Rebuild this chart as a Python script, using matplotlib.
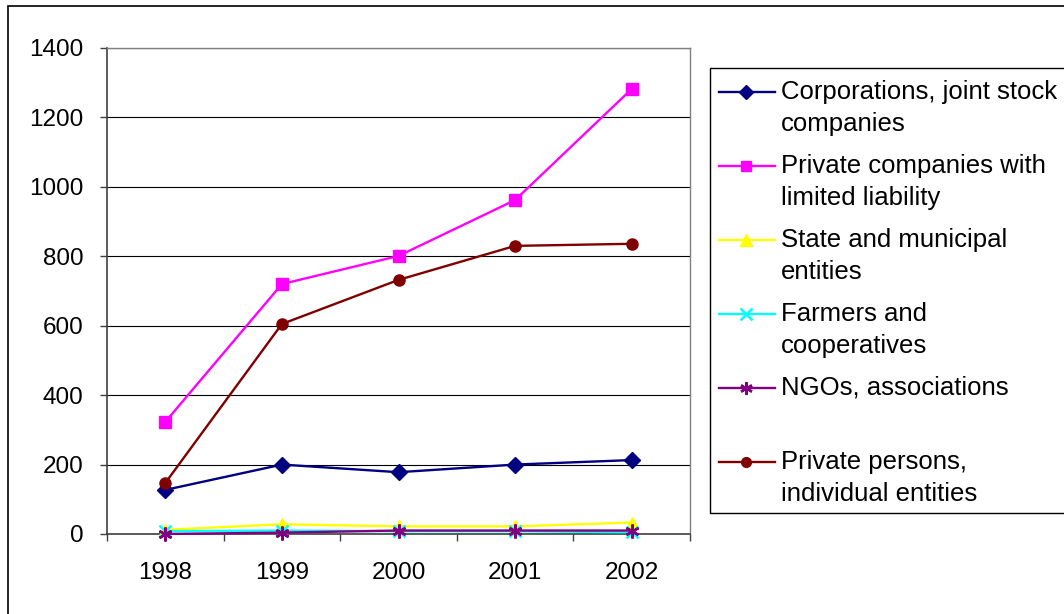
import matplotlib
matplotlib.use("Agg")
import matplotlib.pyplot as plt
from matplotlib.lines import Line2D
from matplotlib.patches import Rectangle

plt.rcParams['font.family'] = ['Liberation Sans', 'DejaVu Sans']

years = ["1998", "1999", "2000", "2001", "2002"]

corporations = [127, 200, 178, 200, 213]
private_llc = [323, 720, 801, 962, 1282]
state_municipal = [12, 28, 22, 22, 33]
farmers = [8, 10, 8, 8, 5]
ngos = [0, 4, 10, 10, 10]
private_persons = [147, 605, 732, 830, 836]

labels = ["Corporations, joint stock\ncompanies",
          "Private companies with\nlimited liability",
          "State and municipal\nentities",
          "Farmers and\ncooperatives",
          "NGOs, associations",
          "Private persons,\nindividual entities"]
colors = ["#000080", "#FF00FF", "#FFFF00", "#00FFFF", "#800080", "#800000"]
markers = ["D", "s", "^", "x", (6, 2, 0), "o"]
msizes = [8, 8, 9, 9, 10, 8]
series = [corporations, private_llc, state_municipal, farmers, ngos, private_persons]

W, H = 1064, 614
fig = plt.figure(figsize=(W / 100, H / 100), dpi=100)
ax = fig.add_axes([107 / W, (H - 534) / H, 583 / W, 486 / H])

x = range(len(years))
for vals, c, m, ms in zip(series, colors, markers, msizes):
    ax.plot(x, vals, color=c, marker=m, markersize=ms, linewidth=1.7,
            markeredgewidth=1.8 if m in ("x", (6, 2, 0)) else 1,
            markeredgecolor=c, markerfacecolor=c, clip_on=False, zorder=3)

ax.set_xlim(-0.5, len(years) - 0.5)
ax.set_ylim(0, 1400)
ax.set_yticks(range(0, 1401, 200))
ax.yaxis.grid(True, color="black", linewidth=0.8)
ax.set_axisbelow(True)

ax.set_xticks(list(x))
ax.set_xticklabels(years)
ax.set_xticks([i - 0.5 for i in range(len(years) + 1)], minor=True)
ax.tick_params(axis="x", which="major", length=0, pad=20, labelsize=17.5)
ax.tick_params(axis="x", which="minor", length=5, width=1, color="#404040")
ax.tick_params(axis="y", length=5, width=1, color="#404040", pad=12, labelsize=17.5)

for side in ("left", "bottom"):
    ax.spines[side].set_color("#404040")
    ax.spines[side].set_linewidth(1.2)
for side in ("top", "right"):
    ax.spines[side].set_color("#808080")
    ax.spines[side].set_linewidth(1.0)

# outer chart frame
fig.patches.append(Rectangle((8 / W, -0.1), 1.2, 1.1 - 6 / H,
                             transform=fig.transFigure, fill=False,
                             edgecolor="black", linewidth=1.2))

# legend box drawn by hand so markers line up with the first text line
fig.patches.append(Rectangle((710 / W, (H - 513) / H), 1.0, (513 - 68) / H,
                             transform=fig.transFigure, fill=False,
                             edgecolor="black", linewidth=1.0))
entry_y = [92, 166, 240, 314, 388, 462]
for lab, c, m, ms, ey in zip(labels, colors, markers, msizes, entry_y):
    fy = (H - ey) / H
    fig.add_artist(Line2D([719 / W, 775 / W], [fy, fy], color=c, linewidth=1.7,
                          transform=fig.transFigure))
    fig.add_artist(Line2D([746 / W], [fy], color=c, marker=m, markersize=ms - 1,
                          markeredgecolor=c, markerfacecolor=c,
                          markeredgewidth=1.8 if m in ("x", (6, 2, 0)) else 1,
                          transform=fig.transFigure))
    fig.text(781 / W, (H - ey + 12) / H, lab, fontsize=18.5, va="top", ha="left",
             linespacing=1.42)

fig.savefig("out.png", dpi=100)
